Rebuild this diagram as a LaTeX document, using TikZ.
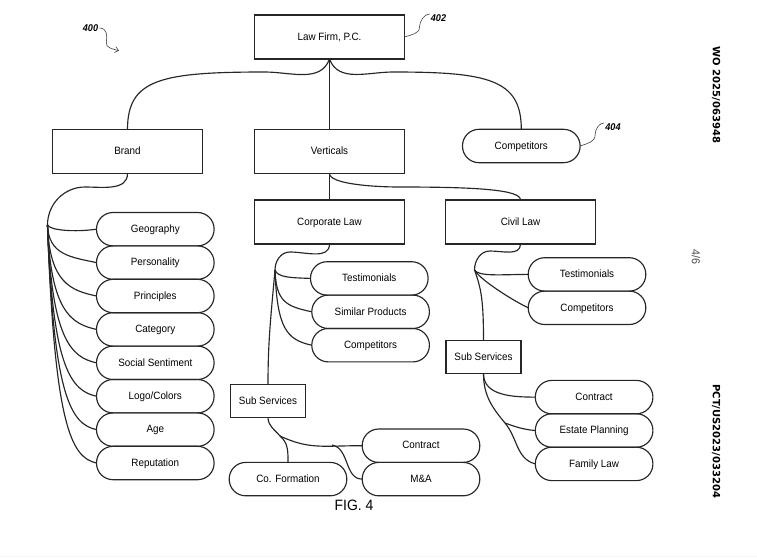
\documentclass[tikz,border=0pt]{standalone}
\usepackage{fontspec}
\setmainfont[FakeStretch=0.93]{Liberation Sans}
\newfontfamily\marginfont{DejaVu Sans}
\usetikzlibrary{positioning, arrows.meta}
\tikzset{
unit/.style={draw=black!85, line width=1.15pt, minimum width=150pt, minimum height=44pt, inner sep=0pt, outer sep=0pt, text height=7.5pt, text depth=1pt, font=\fontsize{10.6}{12}\selectfont},
subunit/.style={unit, minimum width=75pt, minimum height=33pt},
pill/.style={unit, rounded corners=16.5pt, minimum width=117.6pt, minimum height=33.4pt},
tagnum/.style={font=\fontsize{9.8}{11}\selectfont\bfseries\itshape, inner sep=1pt},
margin/.style={font=\fontsize{10}{12}\marginfont\bfseries, rotate=-90, inner sep=0pt},
link/.style={draw=black!85, line width=1.15pt},
callout/.style={draw=black!75, line width=0.6pt},
fan/.style={out=-88, in=168, in distance=26pt, out distance=#1}
}

\begin{document}
\begin{tikzpicture}[x=1pt, y=1pt]
			\useasboundingbox (0,0) rectangle (757,-557);
			\fill[black!4] (0,-555.5) rectangle (757,-557);
			% top row
			\node[unit] (lawfirm) at (329.5,-37) {Law Firm, P.C.};
			\node[unit, below = 70.5pt of lawfirm] (verticals) {Verticals};
			\node[unit, left = 52pt of verticals] (brand) {Brand};
			\node[pill, right = 58pt of verticals, yshift=5.5pt] (competitors) {Competitors};
			\node[unit, below = 26.5pt of verticals] (corporate) {Corporate Law};
			\node[unit, right = 41pt of corporate] (civil) {Civil Law};
			% brand
			\node[pill, below right = 39pt and 44pt of brand.south west] (geography) {Geography};
			\node[pill, below = 0pt of geography] (personality) {Personality};
			\node[pill, below = 0pt of personality] (principles) {Principles};
			\node[pill, below = 0pt of principles] (category) {Category};
			\node[pill, below = 0pt of category] (sentiment) {Social Sentiment};
			\node[pill, below = 0pt of sentiment] (logo) {Logo/Colors};
			\node[pill, below = 0pt of logo] (age) {Age};
			\node[pill, below = 0pt of age] (reputation) {Reputation};
			% corporate law
			\node[pill, below right = 17.7pt and 56pt of corporate.south west] (corptest) {Testimonials};
			\node[pill, below = 0pt of corptest, xshift=1.3pt] (corpsimilar) {Similar Products};
			\node[pill, below = 0pt of corpsimilar] (corpcomp) {Competitors};
			\node[subunit, below = 140.3pt of corporate.south, xshift=-61.5pt] (corpsub) {Sub Services};
			\node[pill, below right = 11.7pt and 56.7pt of corpsub.south east] (corpcontract) {Contract};
			\node[pill, below = 0pt of corpcontract] (merger) {M\&A};
			\node[pill, left = 15.4pt of merger] (formation) {Co. Formation};
			% civil law
			\node[pill, below right = 13.7pt and 82.7pt of civil.south west] (civtest) {Testimonials};
			\node[pill, below = 0pt of civtest] (civcomp) {Competitors};
			\node[subunit, below = 96.7pt of civil.south, xshift=-37pt] (civsub) {Sub Services};
			\node[pill, below right = 6.7pt and 14.3pt of civsub.south east] (civcontract) {Contract};
			\node[pill, below = 0pt of civcontract] (estate) {Estate Planning};
			\node[pill, below = 0pt of estate] (family) {Family Law};
			% labels
			\node[font=\fontsize{15}{16}\selectfont, inner sep=0pt] (fig) at (354,-505) {FIG. 4};
			\node[tagnum] (tag400) at (90.5,-28) {400};
			\node[tagnum] (tag402) at (438.5,-18) {402};
			\node[tagnum] (tag404) at (613,-127) {404};
			\node[margin] (wo) at (716,-95) {WO 2025/063948};
			\node[margin] (pct) at (716,-441.3) {PCT/US2023/033204};
			\node[font=\fontsize{11.5}{13}\selectfont, text=black!70, rotate=-90, inner sep=0pt] (sheet) at (696,-257) {4/6};
			% ----
			\coordinate (lawleft) at (265,-72);
			\coordinate (lawright) at (393,-72);
			\coordinate (vertmid) at (400,-187);
			\coordinate (brandtop) at (85,-187);
			\coordinate (brandhub) at (47.5,-225);
			\coordinate (corptop) at (290,-252);
			\coordinate (corphub) at (275,-270);
			\coordinate (civtop) at (490,-251);
			\coordinate (civhub) at (474.5,-270);
			\coordinate (corpjoin) at (280,-436);
			\coordinate (mergejoin) at (332,-445);
			\coordinate (civjoin) at (505,-423);
			\coordinate (arrow400) at (119,-50.7);
			% ----
			\draw[link] (lawfirm.south) to (verticals.north);
			\draw[link] (lawfirm.south) to[out=-110, in=0] (lawleft) to[out=180, in=90, out distance=105pt, in distance=50pt] (brand.north);
			\draw[link] (lawfirm.south) to[out=-70, in=180] (lawright) to[out=0, in=90, out distance=95pt, in distance=50pt] (competitors.north);

			\draw[link] (verticals.south) to (corporate.north);
			\draw[link] (verticals.south) to[out=-90, in=180, out distance=10pt, in distance=30pt] (vertmid) to[out=0, in=90, out distance=80pt, in distance=10pt] (civil.north);

			\draw[link] (brand.south) to[out=-90, in=0] (brandtop) to[out=180, in=90] (brandhub);
			\draw[link] (brandhub) to[out=-65, in=188, out distance=6pt, in distance=22pt] (geography.west);
			\draw[link] (brandhub) to[fan=30pt] (personality.west);
			\draw[link] (brandhub) to[fan=58pt] (principles.west);
			\draw[link] (brandhub) to[fan=86pt] (category.west);
			\draw[link] (brandhub) to[fan=114pt] (sentiment.west);
			\draw[link] (brandhub) to[fan=143pt] (logo.west);
			\draw[link] (brandhub) to[fan=172pt] (age.west);
			\draw[link] (brandhub) to[fan=200pt] (reputation.west);

			\draw[link] (corporate.south) to[out=-90, in=0] (corptop) to[out=180, in=90] (corphub);
			\draw[link] (corphub) to[out=-70, in=178, out distance=8pt, in distance=20pt] (corptest.west);
			\draw[link] (corphub) to[fan=32pt] (corpsimilar.west);
			\draw[link] (corphub) to[fan=58pt] (corpcomp.west);
			\draw[link] (corphub) to[out=-95, in=90] (corpsub.north);

			\draw[link] (corpsub.south) to[out=-90, in=130] (corpjoin);
			\draw[link] (corpjoin) to[out=-25, in=180, in distance=40pt] (corpcontract.west);
			\draw[link] (corpjoin) to[out=-40, in=90] (formation.north);
			\draw[link] (mergejoin) to[out=-10, in=180] (merger.west);

			\draw[link] (civil.south) to[out=-90, in=0] (civtop) to[out=180, in=90] (civhub);
			\draw[link] (civhub) to[out=-60, in=180, out distance=8pt, in distance=25pt] (civtest.west);
			\draw[link] (civhub) to[out=-60, in=155, out distance=12pt, in distance=15pt] (civcomp.west);
			\draw[link] (civhub) to[out=-70, in=90, out distance=20pt, in distance=40pt] (civsub.north);

			\draw[link] (civsub.south) to[out=-90, in=180] (civcontract.west);
			\draw[link] (civsub.south) to[out=-90, in=130] (civjoin);
			\draw[link] (civjoin) to[out=-20, in=175] (estate.west);
			\draw[link] (civjoin) to[out=-50, in=165] (family.west);

			\draw[callout, -{Straight Barb[length=3.5pt, width=6pt]}] (tag400.east) to[out=0, in=80, out distance=8pt] ++(7,-14) to[out=-100, in=165] (arrow400);
			\draw[callout] (lawfirm.east) to[out=20, in=-90] ++(15,10) to[out=90, in=180, out distance=6pt, in distance=5pt] (tag402.155);
			\draw[callout] (competitors.east) to[out=20, in=-90] ++(15,11) to[out=90, in=180, out distance=6pt, in distance=5pt] (tag404.155);
		\end{tikzpicture}
\end{document}
